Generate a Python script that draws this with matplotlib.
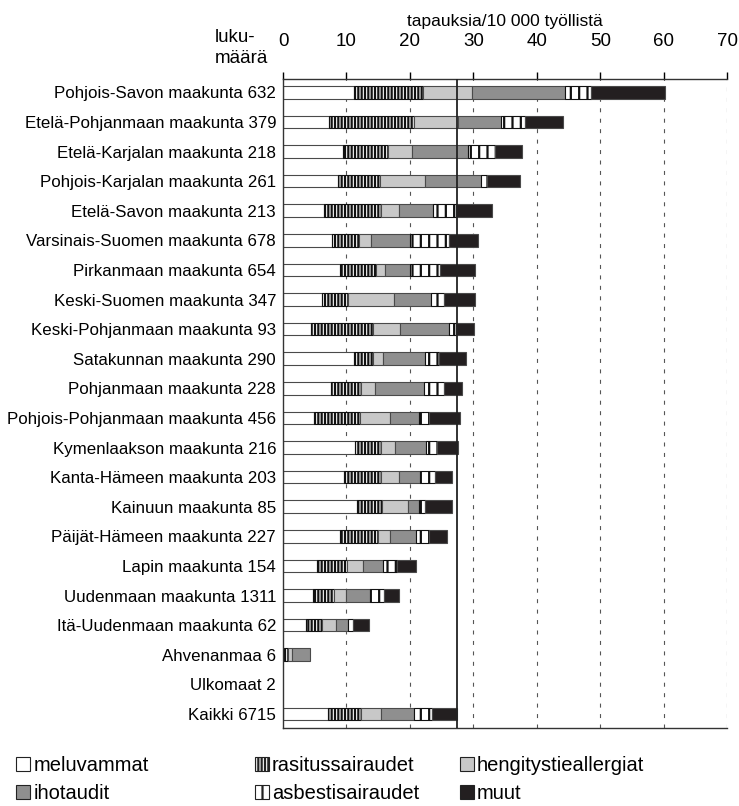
import matplotlib.pyplot as plt
from matplotlib.patches import Patch

plt.rcParams['font.family'] = ['Liberation Sans', 'DejaVu Sans']
plt.rcParams['hatch.linewidth'] = 1.6

# maakunnat ylhäältä alas ja tapausten lukumäärät
regions = ["Pohjois-Savon maakunta", "Etelä-Pohjanmaan maakunta", "Etelä-Karjalan maakunta",
           "Pohjois-Karjalan maakunta", "Etelä-Savon maakunta", "Varsinais-Suomen maakunta",
           "Pirkanmaan maakunta", "Keski-Suomen maakunta", "Keski-Pohjanmaan maakunta",
           "Satakunnan maakunta", "Pohjanmaan maakunta", "Pohjois-Pohjanmaan maakunta",
           "Kymenlaakson maakunta", "Kanta-Hämeen maakunta", "Kainuun maakunta",
           "Päijät-Hämeen maakunta", "Lapin maakunta", "Uudenmaan maakunta",
           "Itä-Uudenmaan maakunta", "Ahvenanmaa", "Ulkomaat", "Kaikki"]
counts = [632, 379, 218, 261, 213, 678, 654, 347, 93, 290, 228, 456, 216, 203, 85,
          227, 154, 1311, 62, 6, 2, 6715]

# tapauksia / 10 000 työllistä
meluvammat = [11.2, 7.2, 9.4, 8.6, 6.5, 7.7, 8.9, 6.2, 4.4, 11.2, 7.6, 4.9, 11.4, 9.6, 11.6,
              8.9, 5.4, 4.7, 3.6, 0.2, 0, 7.1]
rasitussairaudet = [10.9, 13.5, 7.2, 6.7, 9.0, 4.2, 5.7, 4.0, 9.8, 3.0, 4.7, 7.2, 4.0, 5.9, 4.0,
                    6.0, 4.7, 3.3, 2.6, 0.6, 0, 5.2]
hengitystieallergiat = [7.7, 6.9, 3.7, 7.0, 2.8, 1.9, 1.5, 7.3, 4.2, 1.6, 2.2, 4.7, 2.3, 2.7, 4.1,
                        1.9, 2.5, 1.9, 2.2, 0.6, 0, 3.1]
ihotaudit = [14.7, 6.8, 8.8, 8.9, 5.4, 6.2, 3.9, 5.8, 7.7, 6.5, 7.7, 4.7, 4.9, 3.4, 1.8,
             4.1, 3.2, 3.8, 1.8, 2.9, 0, 5.2]
asbestisairaudet = [4.0, 3.7, 4.3, 0.9, 3.5, 6.2, 4.8, 2.0, 1.2, 2.3, 3.1, 1.5, 1.6, 2.3, 0.9,
                    2.1, 2.1, 2.2, 0.9, 0, 0, 2.9]
muut = [11.7, 6.0, 4.2, 5.3, 5.7, 4.5, 5.5, 5.0, 2.8, 4.2, 2.9, 4.9, 3.3, 2.8, 4.3,
        2.8, 3.0, 2.4, 2.4, 0, 0, 3.9]

series = [
    ("meluvammat", meluvammat, "white", None),
    ("rasitussairaudet", rasitussairaudet, "white", "|||||"),
    ("hengitystieallergiat", hengitystieallergiat, "#c8c8c8", None),
    ("ihotaudit", ihotaudit, "#8f8f8f", None),
    ("asbestisairaudet", asbestisairaudet, "white", "||"),
    ("muut", muut, "#231f20", None),
]

fig = plt.figure(figsize=(7.39, 8.06), dpi=100)
ax = fig.add_axes([0.383, 0.097, 0.601, 0.805])

ypos = list(range(len(regions)))
left = [0.0] * len(regions)
handles = {}
for name, vals, col, hatch in series:
    lw = [0 if v == 0 else 0.8 for v in vals]
    ec = "#111111" if hatch else "#4a4a4a"
    ax.barh(ypos, vals, left=left, height=0.42, color=col, edgecolor=ec,
            linewidth=lw, hatch=hatch, zorder=2)
    handles[name] = Patch(facecolor=col, edgecolor="#222222", hatch=hatch, linewidth=0.8)
    left = [a + b for a, b in zip(left, vals)]

# kaikkien keskiarvo pystyviivana
ax.axvline(left[-1], color="#222222", linewidth=1.3, zorder=3)

ax.set_xlim(0, 70)
ax.set_ylim(len(regions) - 0.53, -0.45)
ax.set_xticks(range(0, 71, 10))
ax.xaxis.tick_top()
ax.xaxis.set_label_position('top')
ax.set_xlabel("tapauksia/10 000 työllistä", fontsize=12.5, labelpad=5)
ax.tick_params(axis='x', direction='out', length=5, width=1, labelsize=13.5, pad=16)
ax.set_yticks(ypos)
ax.set_yticklabels([f"{r} {c}" for r, c in zip(regions, counts)], fontsize=12.2)
ax.tick_params(axis='y', length=0, pad=5)

for x in range(10, 71, 10):
    ax.axvline(x, color="#555555", linewidth=0.8, linestyle=(0, (3.6, 5.8)), zorder=1)
ax.spines['right'].set_visible(False)
for s in ['top', 'left', 'bottom']:
    ax.spines[s].set_linewidth(1.0)
    ax.spines[s].set_color("#333333")

fig.text(0.29, 0.94, "luku-\nmäärä", fontsize=13.5, ha='left', va='center', linespacing=1.3)

cols = [("meluvammat", "ihotaudit"), ("rasitussairaudet", "asbestisairaudet"),
        ("hengitystieallergiat", "muut")]
xs = [0.022, 0.345, 0.622]
for x, pair in zip(xs, cols):
    fig.legend([handles[p] for p in pair], list(pair), loc='upper left',
               bbox_to_anchor=(x, 0.062), frameon=False, fontsize=14.5,
               handlelength=0.7, handleheight=0.7, handletextpad=0.15,
               labelspacing=0.45, borderpad=0, borderaxespad=0)

fig.savefig("out.png", dpi=100)
